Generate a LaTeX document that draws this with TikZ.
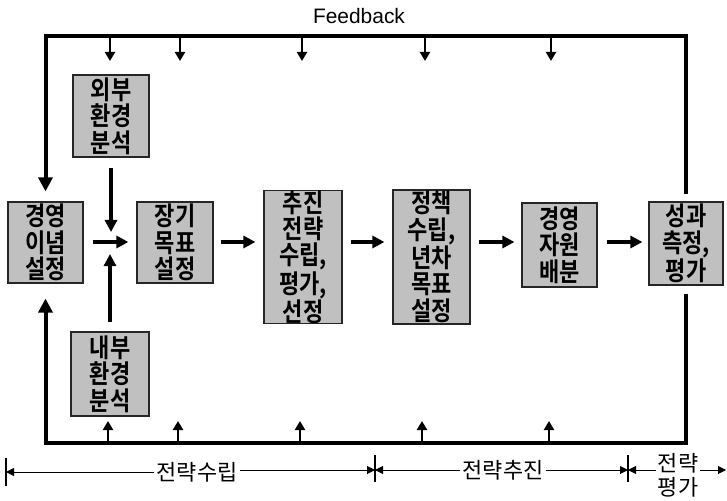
\documentclass[tikz,border=0pt]{standalone}
\usepackage{fontspec}
\setmainfont{Liberation Sans}
\newfontfamily\kr{Noto Sans CJK KR}
\newfontfamily\krbox{Noto Sans CJK KR Bold}[FakeStretch=0.85]
\usetikzlibrary{arrows.meta}
\definecolor{boxgray}{RGB}{192,192,192}
\begin{document}
\begin{tikzpicture}[x=1bp,y=-1bp,
  box/.style={draw=black!85, line width=1.2bp, fill=boxgray, inner sep=0pt, align=center,
    font=\krbox\fontsize{26}{26.5}\selectfont},
  flow/.style={line width=3.5bp, -{Triangle[length=12bp,width=12bp]}},
  fb/.style={line width=4bp, -{Triangle[length=14bp,width=14bp]}},
  smallarr/.style={line width=2.5bp, -{Triangle[length=9bp,width=10bp]}},
  lab/.style={font=\kr\fontsize{22}{24}\selectfont, inner sep=2bp, align=center},
  scalearr/.style={line width=1bp, -{Triangle[length=8bp,width=8bp]}},
  tickmark/.style={line width=2bp}
]
\useasboundingbox (0,0) rectangle (727,501);

\node[box, minimum width=76bp, minimum height=82bp] (ext) at (111,116) {외부\\환경\\분석};
\node[box, minimum width=75bp, minimum height=81bp] (phil) at (45.5,242.5) {경영\\이념\\설정};
\node[box, minimum width=76bp, minimum height=81bp] (long) at (175,242.5) {장기\\목표\\설정};
\node[box, minimum width=78bp, minimum height=132bp] (strat) at (303,257) {추진\\전략\\수립,\\평가,\\선정};
\node[box, minimum width=77bp, minimum height=134bp] (policy) at (431.5,257) {정책\\수립,\\년차\\목표\\설정};
\node[box, minimum width=75bp, minimum height=84bp] (res) at (559.5,245) {경영\\자원\\배분};
\node[box, minimum width=74bp, minimum height=83bp] (perf) at (686,243.5) {성과\\측정,\\평가};
\node[box, minimum width=78bp, minimum height=84bp] (int) at (110,374) {내부\\환경\\분석};

\node[font=\fontsize{21}{24}\selectfont] (fbl) at (359,16) {Feedback};

% feedback loops
\coordinate (top) at (0,36);
\coordinate (bot) at (0,443);
\draw[fb, shorten <=7bp, shorten >=10bp] (perf.north) -- (perf.north |- top) -- (phil.north |- top) -- (phil.north);
\draw[fb, shorten <=8bp, shorten >=15bp] (perf.south) -- (perf.south |- bot) -- (phil.south |- bot) -- (phil.south);

\foreach \x in {110,180,302,425,551} \draw[smallarr] (\x,37) -- (\x,61);
\foreach \x in {108,178,300,422,549} \draw[smallarr] (\x,442) -- (\x,421);

% main flow
\coordinate (mid) at (0,242);
\draw[flow, shorten <=9bp, shorten >=8bp] (phil.east |- mid) -- (long.west |- mid);
\draw[flow, shorten <=7bp, shorten >=8bp] (long.east |- mid) -- (strat.west |- mid);
\draw[flow, shorten <=8bp, shorten >=8bp] (strat.east |- mid) -- (policy.west |- mid);
\draw[flow, shorten <=8bp, shorten >=7bp] (policy.east |- mid) -- (res.west |- mid);
\draw[flow, shorten <=9bp, shorten >=6bp] (res.east |- mid) -- (perf.west |- mid);

\coordinate (jd) at (0,232);
\coordinate (ju) at (0,254);
\draw[flow, shorten <=10bp] (ext.south) -- (ext.south |- jd);
\draw[flow, shorten <=9bp] (int.north) -- (int.north |- ju);

% time scale
\coordinate (t0) at (6,472);
\coordinate (t1) at (375,470);
\coordinate (t2) at (628,470);
\coordinate (tend) at (726,470);
\draw[tickmark] ([yshift=14bp]t0) -- ([yshift=-14bp]t0);
\draw[tickmark] ([yshift=15bp]t1) -- ([yshift=-12bp]t1);
\draw[tickmark] ([yshift=15bp]t2) -- ([yshift=-12bp]t2);

\node[lab] (s1) at (197,472) {전략수립};
\node[lab] (s2) at (503,470) {전략추진};
\node[lab] (s3) at (678,475) {전략\\평가};
\draw[scalearr] (s1.west) -- (t0);
\draw[scalearr] (s1.east |- t1) -- (t1);
\draw[scalearr] (s2.west) -- (t1);
\draw[scalearr] (s2.east) -- (t2);
\draw[scalearr] (s3.west |- t2) -- (t2);
\draw[scalearr] (s3.east |- t2) -- (tend);
\end{tikzpicture}
\end{document}
